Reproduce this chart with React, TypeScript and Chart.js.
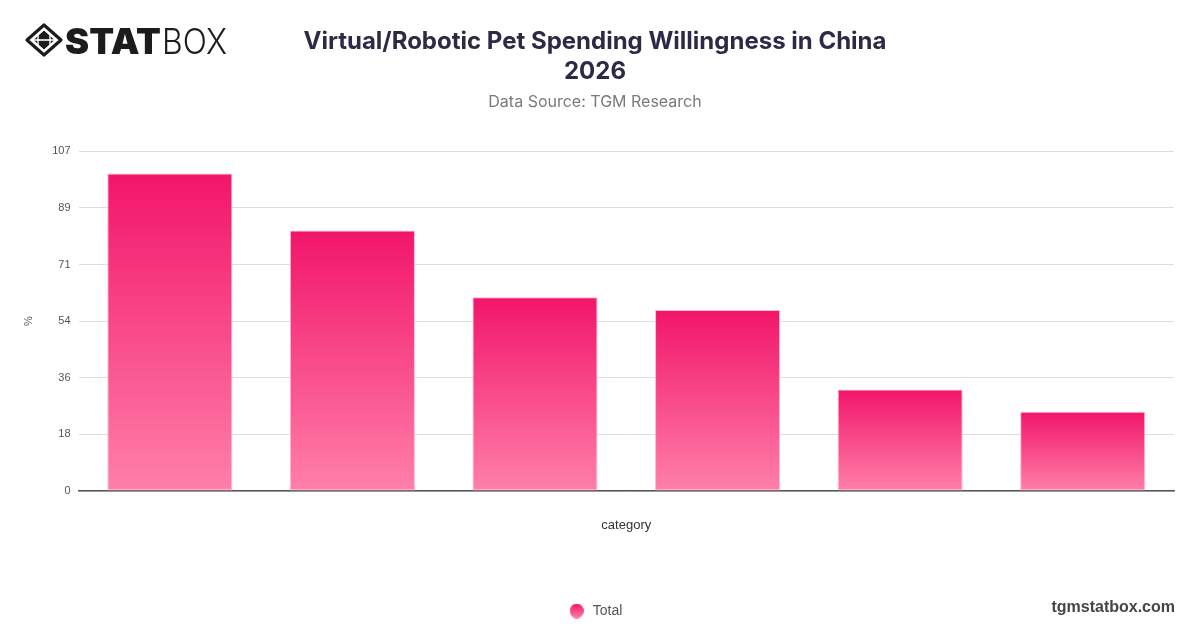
import React, { useEffect, useRef } from "react";
import { Chart, registerables } from "chart.js";

Chart.register(...registerables);

const categories: string[] = ["A", "B", "C", "D", "E", "F"];
const seriesName = "Total";
const totalValues: number[] = [100, 82, 61, 57, 32, 25];
const yMax = 107;
const yTickCount = 6;
const titleLines: string[] = ["Virtual/Robotic Pet Spending Willingness in China", "2026"];
const subtitleText = "Data Source: TGM Research";
const xAxisTitle = "category";
const yAxisTitle = "%";

const TOP_COLOR = "#F2156A";
const BOTTOM_COLOR = "#FF80A9";

function makeLegendDot(): HTMLCanvasElement {
  const c = document.createElement("canvas");
  c.width = 14;
  c.height = 15;
  const g = c.getContext("2d")!;
  const grad = g.createLinearGradient(0, 0, 0, 15);
  grad.addColorStop(0, TOP_COLOR);
  grad.addColorStop(1, BOTTOM_COLOR);
  g.fillStyle = grad;
  g.beginPath();
  g.ellipse(7, 7.5, 7, 7.5, 0, 0, Math.PI * 2);
  g.fill();
  return c;
}

function Logo() {
  return (
    <svg width={220} height={50} style={{ position: "absolute", left: 22, top: 15 }} viewBox="0 0 220 50">
      <g transform="translate(22,25)">
        <polygon points="0,-15 17,0 0,15 -17,0" fill="none" stroke="#1c1c1c" strokeWidth={3.2} strokeLinejoin="round" />
        <polygon points="0,-9.5 10.5,0 0,9.5 -10.5,0" fill="#1c1c1c" />
        <line x1={-11} y1={0} x2={11} y2={0} stroke="#fff" strokeWidth={1.6} />
        <line x1={-6} y1={-5} x2={-6} y2={5} stroke="#fff" strokeWidth={1.4} />
        <line x1={6} y1={-5} x2={6} y2={5} stroke="#fff" strokeWidth={1.4} />
      </g>
      <text x={43} y={39} fontFamily="Inter, 'DejaVu Sans', sans-serif" fontWeight={900} fontSize={35} fill="#1c1c1c" textLength={96} lengthAdjust="spacingAndGlyphs">STAT</text>
      <text x={140} y={39} fontFamily="Inter, 'DejaVu Sans', sans-serif" fontWeight={300} fontSize={35} fill="#1c1c1c" textLength={65} lengthAdjust="spacingAndGlyphs">BOX</text>
    </svg>
  );
}

export default function App() {
  const canvasRef = useRef<HTMLCanvasElement | null>(null);

  useEffect(() => {
    if (!canvasRef.current) return;
    const dot = makeLegendDot();
    const chart = new Chart(canvasRef.current, {
      type: "bar",
      data: {
        labels: categories,
        datasets: [
          {
            label: seriesName,
            data: totalValues,
            backgroundColor: (ctx: any) => {
              const c = ctx.chart;
              const y = c.scales && c.scales.y;
              if (!y || ctx.parsed === undefined || ctx.type !== "data") return TOP_COLOR;
              const top = y.getPixelForValue(ctx.parsed.y);
              const bottom = y.getPixelForValue(0);
              const g = c.ctx.createLinearGradient(0, top, 0, bottom);
              g.addColorStop(0, TOP_COLOR);
              g.addColorStop(1, BOTTOM_COLOR);
              return g;
            },
            borderColor: "rgba(255,175,205,0.9)",
            borderWidth: 1,
            borderSkipped: false,
            categoryPercentage: 1,
            barPercentage: 0.685,
          },
        ],
      },
      options: {
        animation: false,
        responsive: true,
        maintainAspectRatio: false,
        layout: { padding: { left: 16, right: 26, top: 0, bottom: 0 } },
        plugins: {
          title: {
            display: true,
            text: titleLines,
            color: "#2d2a46",
            font: { family: "Inter, 'Noto Sans', sans-serif", size: 24, weight: "bold", lineHeight: 1.25 },
            padding: { top: 27, bottom: 0 },
          },
          subtitle: {
            display: true,
            text: subtitleText,
            color: "#7a7a7a",
            font: { family: "Inter, 'Noto Sans', sans-serif", size: 16, weight: "normal", lineHeight: 1.2 },
            padding: { top: 6, bottom: 39 },
          },
          legend: {
            display: true,
            position: "bottom",
            labels: {
              usePointStyle: true,
              pointStyleWidth: 18,
              boxWidth: 10,
              boxHeight: 10,
              color: "#555",
              font: { family: "'Liberation Sans', Arial, sans-serif", size: 14 },
              padding: 10,
              generateLabels: () => [
                {
                  text: seriesName,
                  fillStyle: "#F5437E",
                  strokeStyle: "#F5437E",
                  lineWidth: 0,
                  pointStyle: dot,
                  hidden: false,
                  datasetIndex: 0,
                  fontColor: "#555",
                },
              ],
            },
          },
          tooltip: { enabled: false },
        },
        scales: {
          x: {
            grid: { display: false },
            border: { display: true, color: "#555", width: 1.5 },
            ticks: { display: false },
            title: {
              display: true,
              text: xAxisTitle,
              color: "#333",
              font: { family: "'Liberation Sans', Arial, sans-serif", size: 13 },
              padding: { top: 18.3, bottom: 61 },
            },
          },
          y: {
            min: 0,
            max: yMax,
            afterBuildTicks: (scale: any) => {
              const ticks = [];
              for (let i = 0; i <= yTickCount; i++) ticks.push({ value: (yMax * i) / yTickCount });
              scale.ticks = ticks;
            },
            ticks: {
              color: "#555",
              font: { family: "'Liberation Sans', Arial, sans-serif", size: 11 },
              padding: 8,
              callback: (v: any) => String(Math.round(Number(v))),
            },
            grid: { color: "#dedede", lineWidth: 1, drawTicks: false },
            border: { display: false },
            title: {
              display: true,
              text: yAxisTitle,
              color: "#555",
              font: { family: "'Liberation Sans', Arial, sans-serif", size: 11 },
              padding: { top: 6, bottom: 9 },
            },
          },
        },
      },
    });
    return () => chart.destroy();
  }, []);

  return (
    <div style={{ position: "fixed", left: 0, top: 0, width: 1200, height: 628, background: "#fff", overflow: "hidden" }}>
      <canvas ref={canvasRef} style={{ position: "absolute", left: 0, top: 0 }} />
      <Logo />
      <div
        style={{
          position: "absolute",
          right: 25,
          bottom: 12,
          fontFamily: "'Liberation Sans', Arial, sans-serif",
          fontWeight: "bold",
          fontSize: 16,
          color: "#454545",
        }}
      >
        tgmstatbox.com
      </div>
    </div>
  );
}
